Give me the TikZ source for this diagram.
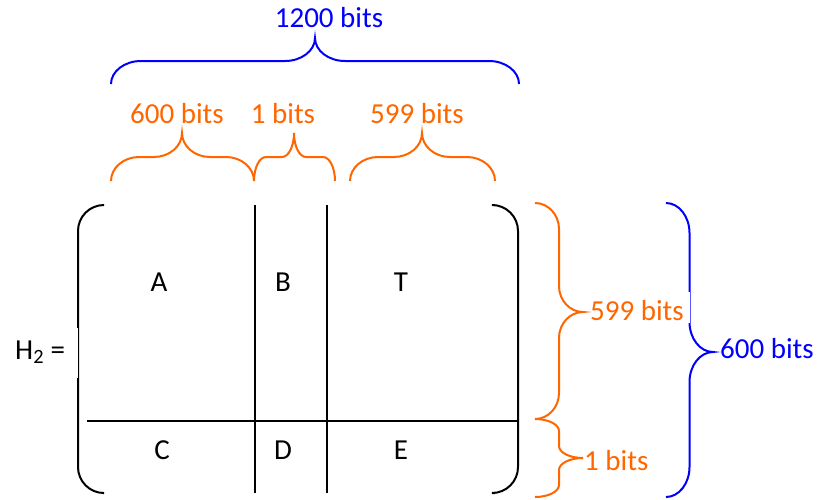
\documentclass[tikz,border=0pt]{standalone}
\usepackage{fontspec}
\setmainfont{Carlito}
\definecolor{braceblue}{RGB}{0,0,255}
\definecolor{braceorange}{RGB}{255,102,0}
% horizontal brace pointing up: [opts] x1 x2 xm y0 r w
\newcommand{\HBrace}[7][]{%
  \draw[#1] (#2,#5) .. controls (#2,{#5-0.55*#6}) and ({#2+0.45*#7},{#5-#6}) .. ({#2+#7},{#5-#6})
   -- ({#4-#7},{#5-#6}) .. controls ({#4-0.45*#7},{#5-#6}) and (#4,{#5-1.45*#6}) .. (#4,{#5-2*#6})
   .. controls (#4,{#5-1.45*#6}) and ({#4+0.45*#7},{#5-#6}) .. ({#4+#7},{#5-#6})
   -- ({#3-#7},{#5-#6}) .. controls ({#3-0.45*#7},{#5-#6}) and (#3,{#5-0.55*#6}) .. (#3,#5);}
% vertical brace pointing right: [opts] y1 y2 ym x0 r w
\newcommand{\VBrace}[7][]{%
  \draw[#1] (#5,#2) .. controls ({#5+0.55*#6},#2) and ({#5+#6},{#2+0.45*#7}) .. ({#5+#6},{#2+#7})
   -- ({#5+#6},{#4-#7}) .. controls ({#5+#6},{#4-0.45*#7}) and ({#5+1.45*#6},#4) .. ({#5+2*#6},#4)
   .. controls ({#5+1.45*#6},#4) and ({#5+#6},{#4+0.45*#7}) .. ({#5+#6},{#4+#7})
   -- ({#5+#6},{#3-#7}) .. controls ({#5+#6},{#3-0.45*#7}) and ({#5+0.55*#6},#3) .. (#5,#3);}
\tikzset{
  lbl/.style={inner sep=0pt, anchor=base, font=\fontsize{29}{35}\selectfont},
  bluelbl/.style={lbl, text=braceblue},
  orlbl/.style={lbl, text=braceorange},
  bbrace/.style={draw=braceblue, line width=2pt},
  obrace/.style={draw=braceorange, line width=2pt},
  mline/.style={draw=black, line width=2pt},
}
\begin{document}
\begin{tikzpicture}[x=1pt,y=-1pt]
\useasboundingbox (0,0) rectangle (818,499);
% top braces
\HBrace[bbrace]{111}{519}{315}{84}{23}{30}
\HBrace[obrace]{111}{254}{182}{181}{24}{28}
\HBrace[obrace]{254}{335}{294}{181}{24}{12}
\HBrace[obrace]{350}{495}{422}{181}{24}{28}
\node[bluelbl] (t1200) at (329,27) {1200 bits};
\node[orlbl] (t600) at (177,123) {600 bits};
\node[orlbl] (t1) at (283,123) {1 bits};
\node[orlbl] (t599) at (417,123) {599 bits};
% matrix brackets
\draw[mline, rounded corners=26pt] (103,205) -- (78,205) -- (78,493) -- (103,493);
\draw[mline, rounded corners=26pt] (495,205) -- (518,205) -- (518,493) -- (495,493);
\coordinate (v1t) at (255,205); \coordinate (v1b) at (255,493);
\coordinate (v2t) at (327,205); \coordinate (v2b) at (327,493);
\coordinate (hl) at (87,421); \coordinate (hr) at (518,421);
\draw[mline] (v1t) -- (v1b);
\draw[mline] (v2t) -- (v2b);
\draw[mline] (hl) -- (hr);
\fill[white] (60,328) rectangle (78,378);
\node[lbl] (A) at (159,291) {A};
\node[lbl] (B) at (283,291) {B};
\node[lbl] (T) at (401,291) {T};
\node[lbl] (C) at (162,459) {C};
\node[lbl] (D) at (283,459) {D};
\node[lbl] (E) at (401,459) {E};
\node[lbl, anchor=base west] (H) at (15,359) {H\textsubscript{2} =};
% right braces
\VBrace[bbrace]{203}{497}{352}{666}{23.5}{30}
\fill[white] (685,292) rectangle (690,323);
\VBrace[obrace]{203}{419}{312}{535}{24}{26}
\VBrace[obrace]{419}{497}{458}{535}{24}{12}
\node[orlbl, anchor=base west] (r599) at (590,320) {599 bits};
\node[orlbl, anchor=base west] (r1) at (584,470) {1 bits};
\node[bluelbl, anchor=base west] (r600) at (720,358) {600 bits};
\end{tikzpicture}
\end{document}
